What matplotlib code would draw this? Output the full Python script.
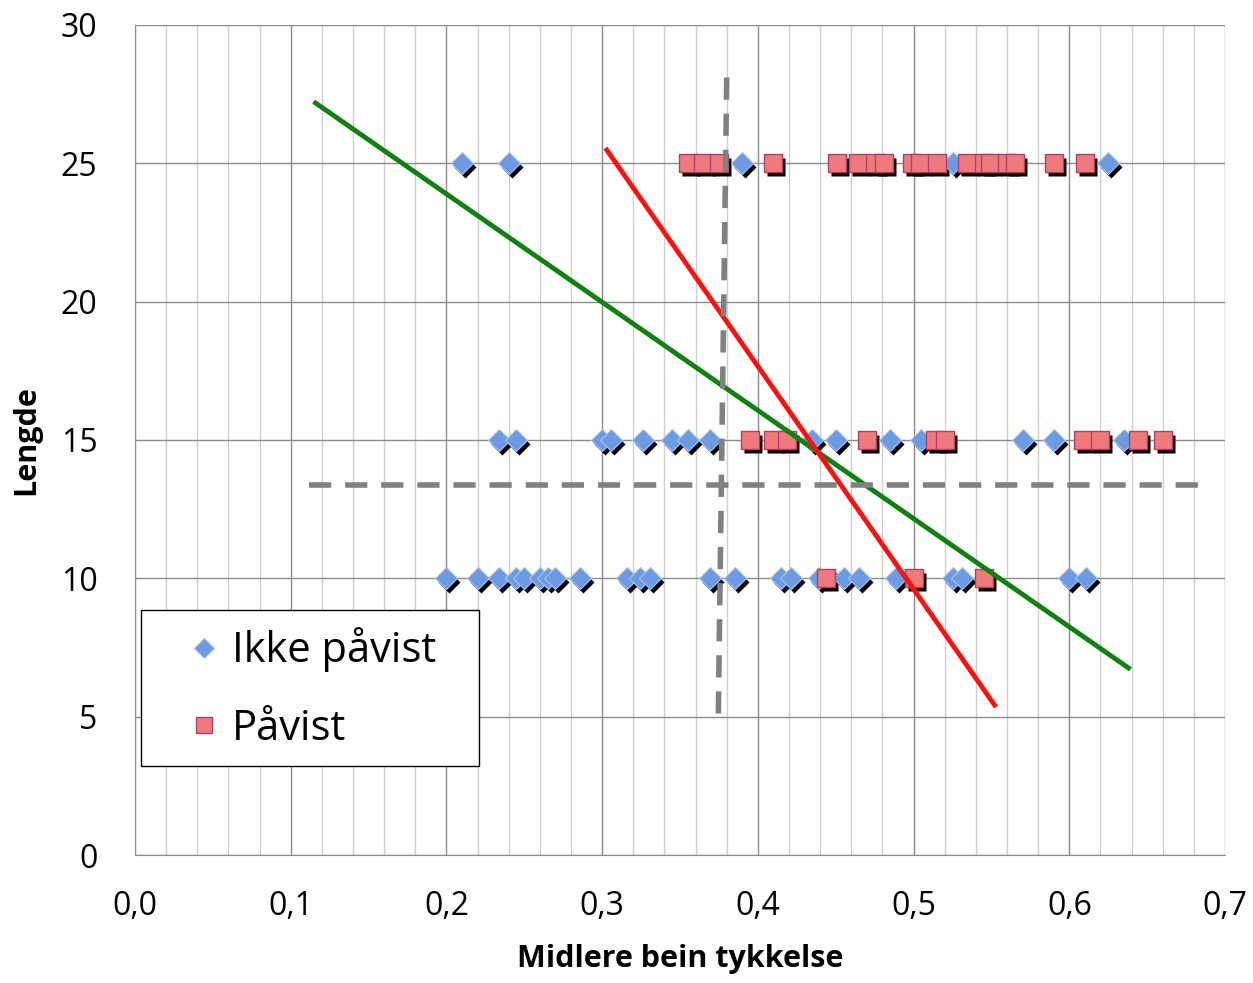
import matplotlib
matplotlib.use("Agg")
import matplotlib.pyplot as plt
from matplotlib.transforms import offset_copy

plt.rcParams['font.family'] = ['Open Sans', 'DejaVu Sans']

# Ikke påvist (blue diamonds)
ikke_x = [0.21, 0.24, 0.39, 0.525, 0.625,
          0.234, 0.245, 0.300, 0.306, 0.326, 0.345, 0.355, 0.369, 0.435, 0.45,
          0.485, 0.505, 0.570, 0.590, 0.635,
          0.200, 0.220, 0.234, 0.245, 0.250, 0.260, 0.265, 0.270, 0.286, 0.316,
          0.324, 0.331, 0.369, 0.385, 0.415, 0.421, 0.439, 0.455, 0.465, 0.489,
          0.525, 0.531, 0.600, 0.611]
ikke_y = [25] * 5 + [15] * 15 + [10] * 24

# Påvist (red squares)
pavist_x = [0.355, 0.365, 0.375, 0.41, 0.451, 0.464, 0.475, 0.481, 0.499, 0.504,
            0.515, 0.534, 0.545, 0.549, 0.560, 0.565, 0.590, 0.610,
            0.395, 0.410, 0.419, 0.470, 0.514, 0.520, 0.609, 0.620, 0.644, 0.660,
            0.444, 0.500, 0.545]
pavist_y = [25] * 18 + [15] * 10 + [10] * 3

# lines
green_x = [0.116, 0.638]
green_y = [27.18, 6.76]
red_x = [0.303, 0.552]
red_y = [25.48, 5.42]
vdash_x = [0.380, 0.3745]
vdash_y = [28.1, 4.63]
hdash_x = [0.112, 0.69]
hdash_y = [13.37, 13.37]

fig = plt.figure(figsize=(12.53, 9.83), dpi=100)
ax = fig.add_axes([0.1077, 0.1302, 0.87, 0.8444])

ax.set_xlim(0, 0.7)
ax.set_ylim(0, 30)
ax.set_xticks([i / 10 for i in range(8)])
ax.set_xticklabels([f"{i/10:.1f}".replace('.', ',') for i in range(8)])
ax.set_xticks([i / 50 for i in range(36)], minor=True)
ax.set_yticks(range(0, 31, 5))
ax.grid(True, which='minor', axis='x', color='#d0d0d0', lw=1)
ax.grid(True, which='major', color='#8c8c8c', lw=1)
ax.tick_params(which='both', length=0, labelsize=23)
ax.tick_params(axis='x', pad=25)
ax.tick_params(axis='y', pad=27)
for s in ax.spines.values():
    s.set_visible(False)
ax.spines['left'].set_visible(True)
ax.spines['bottom'].set_visible(True)
ax.spines['left'].set_color('#8c8c8c')
ax.spines['bottom'].set_color('#8c8c8c')
ax.set_axisbelow(True)

# black drop shadow under the markers
shadow = offset_copy(ax.transData, fig=fig, x=3, y=-4, units='dots')
ax.plot(ikke_x, ikke_y, 'D', ms=11, color='black', mec='none', transform=shadow, zorder=2)
ax.plot(pavist_x, pavist_y, 's', ms=13, color='black', mec='none', transform=shadow, zorder=2)
ax.plot(ikke_x, ikke_y, 'D', ms=11, color='#6d9be3', mec='#a8c4ef', mew=0.8, zorder=3,
        label='Ikke påvist', linestyle='none')
ax.plot(pavist_x, pavist_y, 's', ms=13, color='#ee7a7c', mec='#b0406a', mew=1.0, zorder=3,
        label='Påvist', linestyle='none')

ax.plot(green_x, green_y, color='#108010', lw=3.5, zorder=4)
ax.plot(red_x, red_y, color='#ff1010', lw=3.5, zorder=4)
ax.plot(vdash_x, vdash_y, color='#808080', lw=4, dashes=(4, 2.5), zorder=4)
ax.plot(hdash_x, hdash_y, color='#808080', lw=4, dashes=(4, 2.5), zorder=4)

ax.set_xlabel('Midlere bein tykkelse', fontsize=22, fontweight='bold', labelpad=15)
ax.set_ylabel('Lengde', fontsize=22, fontweight='bold', labelpad=14)

leg = ax.legend(loc='lower left', bbox_to_anchor=(0.0055, 0.107, 0.31, 0.19),
                mode='expand', fontsize=30,
                frameon=True, fancybox=False, edgecolor='black', framealpha=1,
                borderpad=0.4, handlelength=2.22, handletextpad=-0.44,
                labelspacing=0.85, markerscale=0.9, borderaxespad=0)
leg.get_frame().set_linewidth(1)

fig.savefig('out.png', dpi=100)
